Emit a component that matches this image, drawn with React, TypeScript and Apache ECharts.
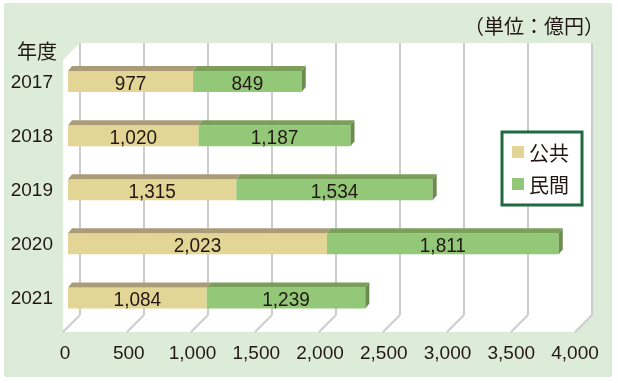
import React, { useEffect, useRef } from "react";
import * as echarts from "echarts";

const years = ["2017", "2018", "2019", "2020", "2021"];
const publicValues = [977, 1020, 1315, 2023, 1084];
const privateValues = [849, 1187, 1534, 1811, 1239];
const axisTicks = [0, 500, 1000, 1500, 2000, 2500, 3000, 3500, 4000];
const seriesNames = ["公共", "民間"];
const unitText = "（単位：億円）";
const yearTitle = "年度";

const NUM_FONT = "'Liberation Sans', Arial, sans-serif";
const NUM_SIZE = 19;
const CJK_FONT = "'Noto Sans CJK JP', sans-serif";

const fmt = (v: number) => v.toLocaleString("en-US");

function makeRender(front: string, top: string, side: string | null) {
  return (params: any, api: any) => {
    const cat = api.value(0);
    const s = api.value(1);
    const e = api.value(2);
    const v = api.value(3);
    const p0 = api.coord([s, cat]);
    const p1 = api.coord([e, cat]);
    const h = 21;
    const dx = 4;
    const dy = 5;
    const yTop = p0[1] - h / 2;
    const yBot = yTop + h;
    const children: any[] = [
      {
        type: "rect",
        shape: { x: p0[0], y: yTop, width: p1[0] - p0[0], height: h },
        style: { fill: front },
      },
      {
        type: "polygon",
        shape: {
          points: [
            [p0[0], yTop],
            [p1[0], yTop],
            [p1[0] + dx, yTop - dy],
            [p0[0] + dx, yTop - dy],
          ],
        },
        style: { fill: top },
      },
    ];
    if (side) {
      children.push({
        type: "polygon",
        shape: {
          points: [
            [p1[0], yTop],
            [p1[0] + dx, yTop - dy],
            [p1[0] + dx, yBot - dy],
            [p1[0], yBot],
          ],
        },
        style: { fill: side },
      });
    }
    children.push({
      type: "text",
      x: (p0[0] + p1[0]) / 2,
      y: p0[1] + 1,
      scaleY: 1.08,
      style: {
        text: fmt(v),
        fill: "#231815",
        font: `${NUM_SIZE}px ${NUM_FONT}`,
        align: "center",
        verticalAlign: "middle",
      },
    });
    return { type: "group", children };
  };
}

export default function App() {
  const ref = useRef<HTMLDivElement>(null);
  useEffect(() => {
    if (!ref.current) return;
    const chart = echarts.init(ref.current, null, { renderer: "svg" });
    const pubData = years.map((_, i) => [i, 0, publicValues[i], publicValues[i]]);
    const privData = years.map((_, i) => [
      i,
      publicValues[i],
      publicValues[i] + privateValues[i],
      privateValues[i],
    ]);
    const option: any = {
      animation: false,
      graphic: [
        {
          type: "rect",
          z: -20,
          shape: { x: 4, y: 3, width: 608, height: 374, r: 2 },
          style: { fill: "#dcecd8" },
        },
        {
          type: "polygon",
          z: -19,
          shape: {
            points: [
              [63, 60],
              [80, 43],
              [592, 43],
              [592, 315],
              [575, 332],
              [63, 332],
            ],
          },
          style: { fill: "#ffffff" },
        },
        {
          type: "text",
          left: 17,
          top: 40,
          style: { text: yearTitle, font: `20px ${CJK_FONT}`, fill: "#231815" },
        },
        {
          type: "text",
          right: 14,
          top: 15,
          style: { text: unitText, font: `20px ${CJK_FONT}`, fill: "#231815" },
        },
      ],
      legend: {
        data: seriesNames,
        orient: "vertical",
        left: 502,
        top: 132,
        icon: "rect",
        itemWidth: 12,
        itemHeight: 12,
        itemGap: 12,
        padding: [10, 13, 11, 10],
        backgroundColor: "#ffffff",
        borderColor: "#1f6a40",
        borderWidth: 3,
        borderRadius: 0,
        textStyle: { fontSize: 20, fontFamily: CJK_FONT, color: "#231815" },
      },
      grid: [
        { left: 68, right: 38, top: 54.5, bottom: 58 },
        { left: 80, right: 26, top: 43, bottom: 68 },
        { left: 65, right: 43, top: 43, bottom: 51 },
      ],
      xAxis: [
        {
          gridIndex: 0,
          type: "value",
          min: 0,
          max: 4000,
          show: false,
        },
        {
          gridIndex: 1,
          type: "value",
          min: 0,
          max: 4000,
          interval: 500,
          axisLine: { show: false },
          axisTick: { show: false },
          axisLabel: { show: false },
          splitLine: { show: true, lineStyle: { color: "#cccccc", width: 2 } },
        },
        {
          gridIndex: 2,
          type: "value",
          min: 0,
          max: 4000,
          interval: 500,
          axisLine: { show: false },
          axisTick: { show: false },
          splitLine: { show: false },
          axisLabel: {
            margin: 11,
            fontSize: NUM_SIZE,
            fontFamily: NUM_FONT,
            color: "#231815",
            formatter: (v: number) => fmt(v),
          },
        },
      ],
      yAxis: [
        {
          gridIndex: 0,
          type: "category",
          data: years,
          inverse: true,
          axisLine: { show: false },
          axisTick: { show: false },
          splitLine: { show: false },
          axisLabel: {
            margin: 15,
            fontSize: NUM_SIZE,
            fontFamily: NUM_FONT,
            color: "#231815",
          },
        },
        { gridIndex: 1, type: "value", min: 0, max: 1, show: false },
        { gridIndex: 2, type: "value", min: 0, max: 1, show: false },
      ],
      series: [
        {
          type: "custom",
          name: "floor",
          xAxisIndex: 1,
          yAxisIndex: 1,
          silent: true,
          z: 1,
          data: axisTicks.map((t) => [t, 0]),
          encode: { x: 0, y: 1 },
          renderItem: (params: any, api: any) => {
            const p = api.coord([api.value(0), 0]);
            return {
              type: "line",
              shape: { x1: p[0], y1: p[1], x2: p[0] - 17, y2: p[1] + 17 },
              style: { stroke: "#cccccc", lineWidth: 2 },
            };
          },
        },
        {
          type: "custom",
          name: seriesNames[0],
          xAxisIndex: 0,
          yAxisIndex: 0,
          itemStyle: { color: "#e3d596" },
          data: pubData,
          encode: { x: [1, 2], y: 0 },
          renderItem: makeRender("#e3d596", "#aa9c78", null),
        },
        {
          type: "custom",
          name: seriesNames[1],
          xAxisIndex: 0,
          yAxisIndex: 0,
          itemStyle: { color: "#93c879" },
          data: privData,
          encode: { x: [1, 2], y: 0 },
          renderItem: makeRender("#93c879", "#7b9e5b", "#6c8b4e"),
        },
      ],
    };
    chart.setOption(option);
    return () => chart.dispose();
  }, []);
  return (
    <div
      ref={ref}
      style={{ position: "fixed", left: 0, top: 0, width: 618, height: 383 }}
    />
  );
}
